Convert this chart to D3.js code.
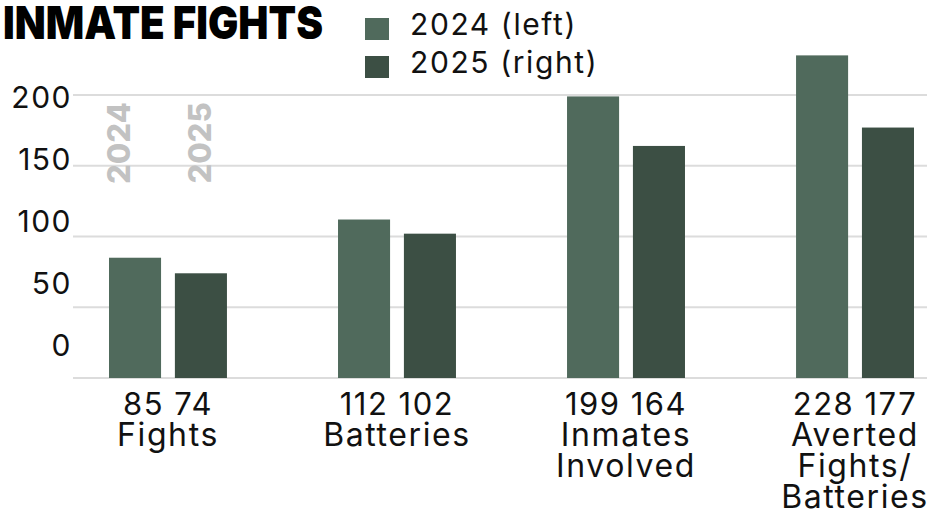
<!DOCTYPE html>
<html>
<head>
<meta charset="utf-8">
<script src="https://cdn.jsdelivr.net/npm/d3@7"></script>
<style>
  body { margin: 0; background: #fff; }
  text { font-family: Inter, "Open Sans", sans-serif; }
</style>
</head>
<body>
<svg id="chart" width="927" height="516"></svg>
<script>
// data
var categories = [["Fights"], ["Batteries"], ["Inmates", "Involved"], ["Averted", "Fights/", "Batteries"]];
var values2024 = [85, 112, 199, 228];
var values2025 = [74, 102, 164, 177];
var seriesNames = ["2024 (left)", "2025 (right)"];
var seriesYears = ["2024", "2025"];
var yTicks = [0, 50, 100, 150, 200];
var colors = ["#506a5c", "#3c4f44"];

var svg = d3.select("#chart");
var W = 927;

var groupIdx = d3.range(categories.length);

// scales
var x0 = d3.scaleBand()
           .domain(groupIdx)
           .range([109, 914])
           .paddingInner(0.485)
           .paddingOuter(0);

var x1 = d3.scaleBand()
           .domain([0, 1])
           .range([0, x0.bandwidth()])
           .paddingInner(0.21)
           .paddingOuter(0);

var y = d3.scaleLinear().domain([0, 200]).range([378, 95]);

// tick labels sit on their own, evenly spaced, not on the gridlines
var yLabel = d3.scaleLinear().domain([0, 200]).range([345, 97]);

// the rotated year labels over the first group
var yearX = d3.scalePoint().domain(seriesYears).range([119, 200]);

// gridlines
svg.append("g").selectAll("line")
   .data(yTicks)
   .join("line")
   .attr("x1", 73).attr("x2", W)
   .attr("y1", function(d) {return y(d);})
   .attr("y2", function(d) {return y(d);})
   .attr("stroke", "#dcdcdc")
   .attr("stroke-width", 2);

// y tick labels
svg.append("g").selectAll("text")
   .data(yTicks)
   .join("text")
   .attr("x", 72)
   .attr("y", function(d) {return yLabel(d);})
   .attr("dy", "0.36em")
   .attr("text-anchor", "end")
   .attr("font-size", 30)
   .attr("letter-spacing", 1.5)
   .attr("fill", "#111")
   .text(function(d) {return d;});

// bars
var groups = svg.append("g").selectAll("g")
   .data(groupIdx)
   .join("g")
   .attr("transform", function(i) {return "translate(" + x0(i) + ",0)";});

groups.selectAll("rect")
   .data(function(i) {return [values2024[i], values2025[i]];})
   .join("rect")
   .attr("x", function(d, j) {return x1(j);})
   .attr("width", x1.bandwidth())
   .attr("y", function(d) {return y(d);})
   .attr("height", function(d) {return y(0) - y(d);})
   .attr("fill", function(d, j) {return colors[j];});

svg.append("g").selectAll("text")
   .data(seriesYears)
   .join("text")
   .attr("transform", function(d) {return "translate(" + yearX(d) + ",143) rotate(-90)";})
   .attr("dy", "0.36em")
   .attr("text-anchor", "middle")
   .attr("font-size", 31)
   .attr("font-weight", 800)
   .attr("fill", "#c2c2c2")
   .text(function(d) {return d;});

// value row under each group
svg.append("g").selectAll("text")
   .data(groupIdx)
   .join("text")
   .attr("x", function(i) {return x0(i) + x0.bandwidth() / 2;})
   .attr("y", 415)
   .attr("text-anchor", "middle")
   .attr("font-size", 31)
   .attr("letter-spacing", 1.5)
   .attr("fill", "#111")
   .text(function(i) {return values2024[i] + " " + values2025[i];});

// category labels
var catText = svg.append("g").selectAll("text")
   .data(groupIdx)
   .join("text")
   .attr("text-anchor", "middle")
   .attr("font-size", 32)
   .attr("letter-spacing", 1.6)
   .attr("fill", "#111");

catText.selectAll("tspan")
   .data(function(i) {return categories[i].map(function(s) {return {s: s, i: i};});})
   .join("tspan")
   .attr("x", function(d) {return x0(d.i) + x0.bandwidth() / 2;})
   .attr("y", function(d, k) {return 446 + k * 31;})
   .text(function(d) {return d.s;});

// title
svg.append("text")
   .attr("x", 3)
   .attr("y", 39)
   .attr("font-size", 46)
   .attr("font-weight", 900)
   .attr("textLength", 320)
   .attr("lengthAdjust", "spacingAndGlyphs")
   .attr("fill", "#000")
   .text("INMATE FIGHTS");

// legend
var legend = svg.append("g").selectAll("g")
   .data(seriesNames)
   .join("g")
   .attr("transform", function(d, j) {return "translate(365," + (18 + j * 38) + ")";});

legend.append("rect")
   .attr("width", 24).attr("height", 22)
   .attr("fill", function(d, j) {return colors[j];});

legend.append("text")
   .attr("x", 45)
   .attr("y", 17)
   .attr("font-size", 30)
   .attr("letter-spacing", 1.6)
   .attr("fill", "#111")
   .text(function(d) {return d;});
</script>
</body>
</html>
